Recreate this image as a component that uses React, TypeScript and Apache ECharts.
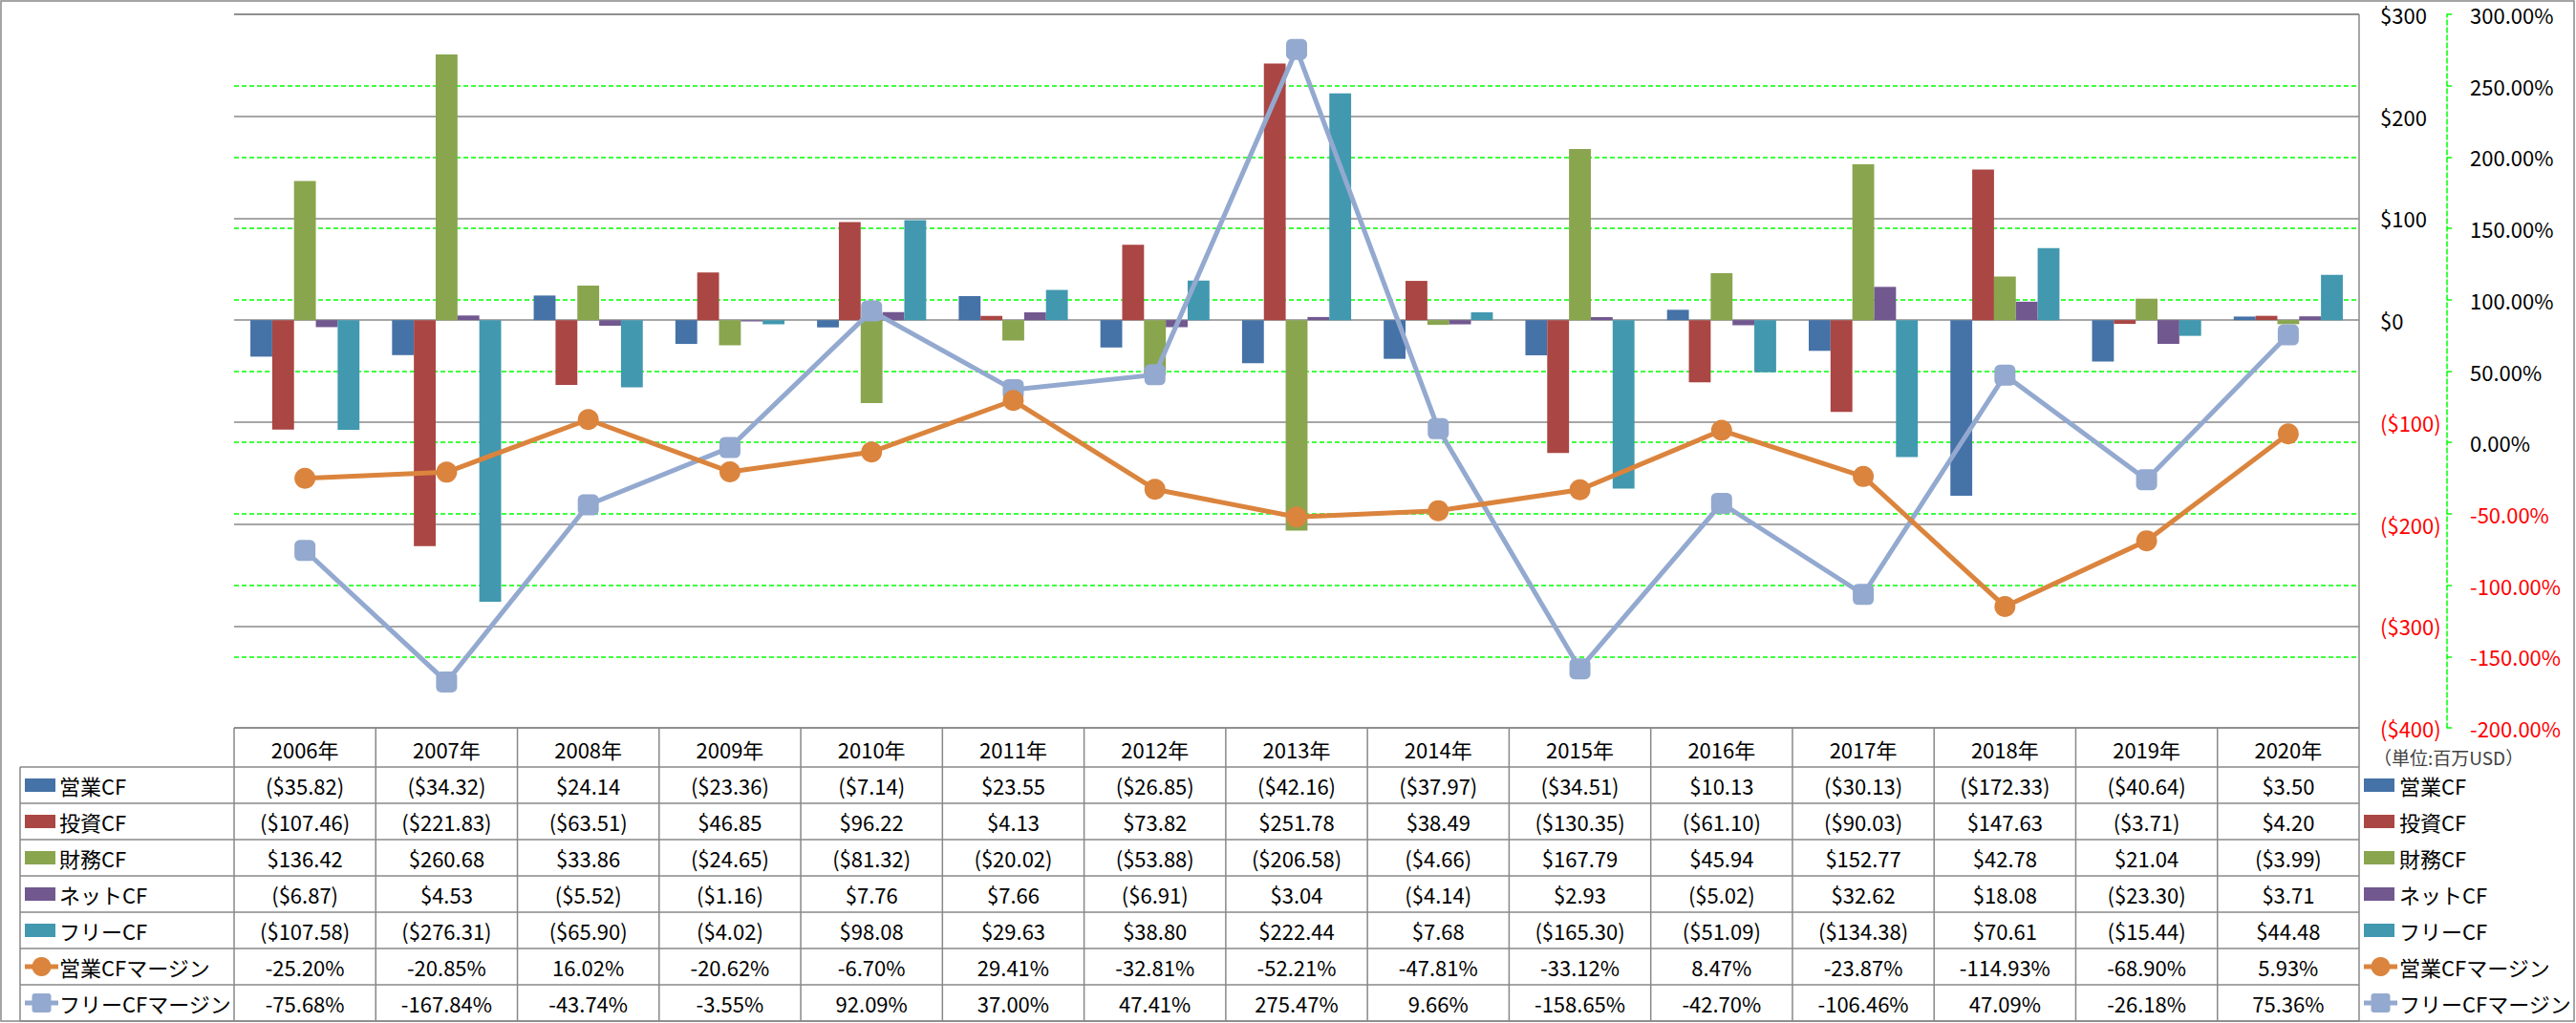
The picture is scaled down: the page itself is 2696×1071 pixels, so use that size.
import React, { useEffect, useRef } from 'react';
import * as echarts from 'echarts';

const years = ['2006年', '2007年', '2008年', '2009年', '2010年', '2011年', '2012年', '2013年', '2014年', '2015年', '2016年', '2017年', '2018年', '2019年', '2020年'];
const operatingCF = [-35.82, -34.32, 24.14, -23.36, -7.14, 23.55, -26.85, -42.16, -37.97, -34.51, 10.13, -30.13, -172.33, -40.64, 3.5];
const investingCF = [-107.46, -221.83, -63.51, 46.85, 96.22, 4.13, 73.82, 251.78, 38.49, -130.35, -61.1, -90.03, 147.63, -3.71, 4.2];
const financingCF = [136.42, 260.68, 33.86, -24.65, -81.32, -20.02, -53.88, -206.58, -4.66, 167.79, 45.94, 152.77, 42.78, 21.04, -3.99];
const netCF = [-6.87, 4.53, -5.52, -1.16, 7.76, 7.66, -6.91, 3.04, -4.14, 2.93, -5.02, 32.62, 18.08, -23.3, 3.71];
const freeCF = [-107.58, -276.31, -65.9, -4.02, 98.08, 29.63, 38.8, 222.44, 7.68, -165.3, -51.09, -134.38, 70.61, -15.44, 44.48];
const operatingMargin = [-25.2, -20.85, 16.02, -20.62, -6.7, 29.41, -32.81, -52.21, -47.81, -33.12, 8.47, -23.87, -114.93, -68.9, 5.93];
const freeMargin = [-75.68, -167.84, -43.74, -3.55, 92.09, 37.0, 47.41, 275.47, 9.66, -158.65, -42.7, -106.46, 47.09, -26.18, 75.36];

const seriesNames = ['営業CF', '投資CF', '財務CF', 'ネットCF', 'フリーCF', '営業CFマージン', 'フリーCFマージン'];
const unitLabel = '（単位:百万USD）';

const W = 2696;
const H = 1071;
const GL = 245;
const GR = 2469;
const GT = 15;
const GB = 762;
const ROW_TOP = 803;
const ROW_H = 38;
const FONT = '"Noto Sans CJK JP", "Noto Sans", sans-serif';
const GRAY = '#888888';
const GREEN = '#00FF00';
const RED = '#FF0000';
const COLORS = ['#4572A7', '#AA4643', '#89A54E', '#71588F', '#4198AF', '#DB843D', '#93A9CF'];

const money = (v: number) => (v < 0 ? `($${Math.abs(v).toFixed(2)})` : `$${v.toFixed(2)}`);
const pct = (v: number) => `${v.toFixed(2)}%`;

function txt(text: string, x: number, y: number, align: string, fill = '#000', size = 22) {
  return {
    type: 'text',
    x,
    y,
    silent: true,
    style: {
      text,
      fill,
      fontSize: size,
      fontFamily: FONT,
      align,
      verticalAlign: 'middle',
      textAlign: align,
      textVerticalAlign: 'middle',
    },
  };
}

function hline(x1: number, x2: number, y: number) {
  return { type: 'line', silent: true, shape: { x1, y1: y, x2, y2: y }, style: { stroke: GRAY, lineWidth: 1.5 } };
}
function vline(x: number, y1: number, y2: number) {
  return { type: 'line', silent: true, shape: { x1: x, y1, x2: x, y2 }, style: { stroke: GRAY, lineWidth: 1.5 } };
}

function legendKey(idx: number, x: number, cy: number) {
  const color = COLORS[idx];
  if (idx < 5) {
    return [{ type: 'rect', silent: true, shape: { x, y: cy - 7, width: 32, height: 14 }, style: { fill: color } }];
  }
  const els: any[] = [
    { type: 'line', silent: true, shape: { x1: x, y1: cy, x2: x + 35, y2: cy }, style: { stroke: color, lineWidth: 5 } },
  ];
  if (idx === 5) {
    els.push({ type: 'circle', silent: true, shape: { cx: x + 17.5, cy, r: 10 }, style: { fill: color } });
  } else {
    els.push({ type: 'rect', silent: true, shape: { x: x + 7.5, y: cy - 10, width: 20, height: 20, r: 3 }, style: { fill: color } });
  }
  return els;
}

export default function App() {
  const ref = useRef<HTMLDivElement>(null);

  useEffect(() => {
    if (!ref.current) return;
    const chart = echarts.init(ref.current, null, { renderer: 'svg' });

    const rows = [
      operatingCF.map(money),
      investingCF.map(money),
      financingCF.map(money),
      netCF.map(money),
      freeCF.map(money),
      operatingMargin.map(pct),
      freeMargin.map(pct),
    ];
    const colW = (GR - GL) / years.length;
    const graphics: any[] = [];

    // outer border
    graphics.push({ type: 'rect', silent: true, shape: { x: 1, y: 1, width: W - 3, height: H - 3 }, style: { fill: 'none', stroke: GRAY, lineWidth: 1.5 } });

    // table lines
    const tableBottom = ROW_TOP + ROW_H * rows.length;
    graphics.push(hline(GL, GR, GB));
    graphics.push(hline(GL, GR, GT));
    for (let r = 0; r <= rows.length; r++) graphics.push(hline(21, GR, ROW_TOP + ROW_H * r));
    graphics.push(vline(21, ROW_TOP, tableBottom));
    for (let i = 0; i < years.length; i++) graphics.push(vline(GL + colW * i, GB, tableBottom));
    graphics.push(vline(GR, GT, tableBottom));

    // header
    years.forEach((y, i) => graphics.push(txt(y, GL + colW * (i + 0.5), (GB + ROW_TOP) / 2 + 1, 'center')));
    // body
    rows.forEach((row, r) => {
      const cy = ROW_TOP + ROW_H * (r + 0.5);
      row.forEach((s, i) => graphics.push(txt(s, GL + colW * (i + 0.5), cy, 'center')));
      graphics.push(...legendKey(r, 26, cy));
      graphics.push(txt(seriesNames[r], 62, cy, 'left'));
      graphics.push(...legendKey(r, 2474, cy));
      graphics.push(txt(seriesNames[r], 2511, cy, 'left'));
    });
    graphics.push(txt(unitLabel, 2484, 792, 'left', '#404040', 19));

    const barSeries = [operatingCF, investingCF, financingCF, netCF, freeCF].map((d, i) => ({
      name: seriesNames[i],
      type: 'bar',
      yAxisIndex: 0,
      data: d,
      barGap: '0%',
      barCategoryGap: '23%',
      itemStyle: { color: COLORS[i] },
      z: 3,
    }));

    const option: any = {
      animation: false,
      backgroundColor: '#ffffff',
      textStyle: { fontFamily: FONT },
      grid: { left: GL, right: W - GR, top: GT, bottom: H - GB, containLabel: false },
      xAxis: {
        type: 'category',
        data: years,
        axisLine: { show: false },
        axisTick: { show: false },
        axisLabel: { show: false },
        splitLine: { show: false },
      },
      yAxis: [
        {
          type: 'value',
          position: 'right',
          z: 2,
          min: -400,
          max: 300,
          interval: 100,
          axisLine: { show: false },
          axisTick: { show: false },
          axisLabel: {
            margin: 22,
            fontSize: 22,
            fontFamily: FONT,
            formatter: (v: number) => (v < 0 ? `($${Math.abs(v)})` : `$${v}`),
            color: (v: any) => (Number(v) < 0 ? RED : '#000'),
          },
          splitLine: { show: true, lineStyle: { color: GRAY, width: 1.5 } },
        },
        {
          type: 'value',
          position: 'right',
          z: 1,
          offset: 92,
          min: -200,
          max: 300,
          interval: 50,
          axisLine: { show: true, lineStyle: { color: GREEN, width: 1.5, type: [5, 3] } },
          axisTick: { show: true, inside: false, length: 5, lineStyle: { color: GREEN, width: 1.5 } },
          axisLabel: {
            margin: 24,
            fontSize: 22,
            fontFamily: FONT,
            formatter: (v: number) => `${v.toFixed(2)}%`,
            color: (v: any) => (Number(v) < 0 ? RED : '#000'),
          },
          splitLine: { show: true, showMinLine: false, showMaxLine: false, lineStyle: { color: GREEN, width: 1.5, type: [5, 3] } },
        },
      ],
      series: [
        ...barSeries,
        {
          name: seriesNames[5],
          type: 'line',
          yAxisIndex: 1,
          data: operatingMargin,
          symbol: 'circle',
          symbolSize: 22,
          lineStyle: { color: COLORS[5], width: 5 },
          itemStyle: { color: COLORS[5] },
          z: 5,
        },
        {
          name: seriesNames[6],
          type: 'line',
          yAxisIndex: 1,
          data: freeMargin,
          symbol: 'roundRect',
          symbolSize: 22,
          lineStyle: { color: COLORS[6], width: 5 },
          itemStyle: { color: COLORS[6] },
          z: 4,
        },
      ],
      graphic: graphics,
    };

    chart.setOption(option);
    return () => chart.dispose();
  }, []);

  return <div ref={ref} style={{ position: 'absolute', left: 0, top: 0, width: W, height: H, background: '#fff' }} />;
}
